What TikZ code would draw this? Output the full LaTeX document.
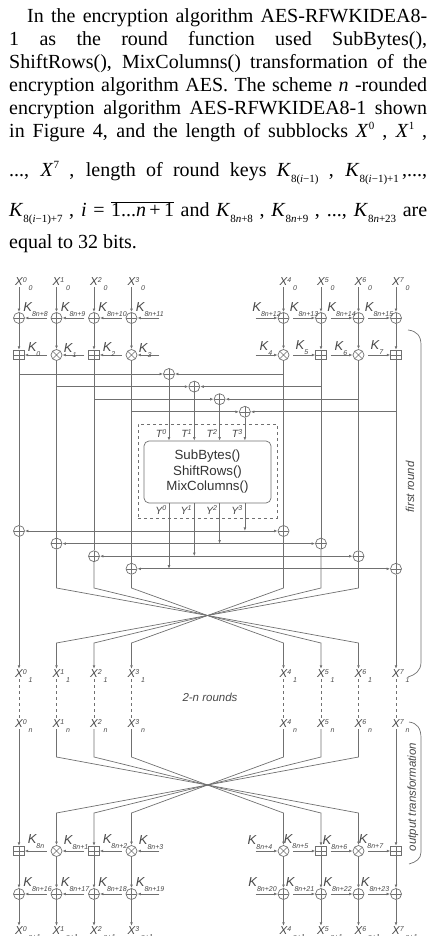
\documentclass[tikz,border=0pt]{standalone}
\usepackage{fontspec}
\setmainfont{Liberation Serif}
\setsansfont{Liberation Sans}
\usetikzlibrary{arrows.meta,positioning}
\definecolor{wiregray}{RGB}{112,112,112}
\definecolor{labelgray}{RGB}{72,72,72}

% indices in the paragraph
\newcommand{\psup}[1]{\raisebox{8pt}{\fontsize{11}{11}\selectfont #1}}
\newcommand{\psub}[1]{\raisebox{-6pt}{\fontsize{11}{11}\selectfont #1}}
% indices in the scheme
\newcommand{\dsup}[1]{\raisebox{3.5pt}{\fontsize{7}{7}\selectfont #1}}
\newcommand{\dsub}[1]{\raisebox{-4.5pt}{\fontsize{7}{7}\selectfont #1}}
\newcommand{\xlab}[2]{X\rlap{\smash{\dsup{#1}\,\dsub{#2}}}}
\newcommand{\klab}[1]{K\smash{\dsub{#1}}}

\begin{document}
\begin{tikzpicture}[x=1pt, y=-1pt,
    wire/.style={draw=wiregray, line width=0.7pt},
    arrow/.style={wire, -{Latex[length=3.6pt, width=2.8pt]}},
    opnode/.style={draw=wiregray, line width=0.7pt, inner sep=0pt},
    xor/.style={opnode, circle, minimum size=11pt,
        path picture={\draw[wiregray, line width=0.6pt]
            (path picture bounding box.north) -- (path picture bounding box.south)
            (path picture bounding box.west) -- (path picture bounding box.east);}},
    mul/.style={opnode, circle, minimum size=11pt,
        path picture={\draw[wiregray, line width=0.6pt]
            (path picture bounding box.north west) -- (path picture bounding box.south east)
            (path picture bounding box.south west) -- (path picture bounding box.north east);}},
    add/.style={opnode, rectangle, minimum width=10.5pt, minimum height=9.5pt,
        path picture={\draw[wiregray, line width=0.6pt]
            (path picture bounding box.north) -- (path picture bounding box.south)
            (path picture bounding box.west) -- (path picture bounding box.east);}},
    xtxt/.style={font=\sffamily\itshape\fontsize{11.5}{13}\selectfont, text=labelgray, inner sep=1pt},
    ktxt/.style={font=\sffamily\itshape\fontsize{13}{14}\selectfont, text=labelgray, inner sep=0pt},
    ttxt/.style={font=\sffamily\itshape\fontsize{10.5}{12}\selectfont, text=labelgray, inner sep=2.5pt},
    textline/.style={anchor=base west, inner sep=0pt, font=\fontsize{20}{23}\selectfont}
]
\useasboundingbox (0,0) rectangle (428,936);

% paragraph above the scheme
\node[textline] (par1) at (27,22.7) {\makebox[400pt][s]{In the encryption algorithm AES-RFWKIDEA8-}};
\node[textline] (par2) at (9,45.7) {\makebox[418pt][s]{1 as the round function used SubBytes(),}};
\node[textline] (par3) at (9,68.3) {\makebox[418pt][s]{ShiftRows(), MixColumns() transformation of the}};
\node[textline] (par4) at (9,91.7) {\makebox[418pt][s]{encryption algorithm AES. The scheme \textit{n} -rounded}};
\node[textline] (par5) at (9,114.3) {\makebox[418pt][s]{encryption algorithm AES-RFWKIDEA8-1 shown}};
\node[textline] (par6) at (9,137.3) {\makebox[418pt][s]{in Figure 4, and the length of subblocks \textit{X}\psup{0} , \textit{X}\psup{1} ,}};
\node[textline] (par7) at (9,176.7) {\makebox[418pt][s]{..., \textit{X}\psup{7} , length of round keys \textit{K}\psub{8(\textit{i}−1)} , \textit{K}\psub{8(\textit{i}−1)+1}\,,...,}};
\node[textline] (par8) at (9,216.7) {\makebox[418pt][s]{\textit{K}\psub{8(\textit{i}−1)+7} , \textit{i} = $\overline{\hbox{1...\textit{n}\,+\,1}}$ and \textit{K}\psub{8\textit{n}+8} , \textit{K}\psub{8\textit{n}+9} , ..., \textit{K}\psub{8\textit{n}+23} are}};
\node[textline] (par9) at (9,248.3) {equal to 32 bits.};

% columns
\foreach \i/\x/\op in {0/19/add, 1/56.5/mul, 2/94/add, 3/131.5/mul,
                       4/283.5/mul, 5/321/add, 6/358.5/mul, 7/396/add} {
  \node[xtxt] (x0\i) at (\x,282) {\xlab{\i}{0}};
  \node[xor] (ka\i) at (\x,318) {};
  \node[\op] (kb\i) at (\x,355) {};
  \node[xtxt] (x1\i) at (\x,674) {\xlab{\i}{1}};
  \node[xtxt] (xn\i) at (\x,724) {\xlab{\i}{n}};
  \node[\op] (kc\i) at (\x,851) {};
  \node[xor] (kd\i) at (\x,894) {};
  \node[xtxt] (xe\i) at (\x,931) {\xlab{\i}{n+1}};
  \coordinate (ta\i) at (\x,588);
  \coordinate (tb\i) at (\x,643);
  \coordinate (ba\i) at (\x,757);
  \coordinate (bb\i) at (\x,813);
  \draw[arrow] (x0\i) -- (ka\i);
  \draw[arrow] (ka\i) -- (kb\i);
  \draw[wire, dashed] (x1\i) -- (xn\i);
  \draw[arrow] (kc\i) -- (kd\i);
  \draw[arrow] (kd\i) -- (xe\i);
}

% round keys, left half
\foreach \i in {0,...,3} {
  \pgfmathtruncatemacro\kn{\i+8}
  \pgfmathtruncatemacro\km{\i+16}
  \coordinate[right=22pt of ka\i] (kai\i);
  \coordinate[right=22pt of kb\i] (kbi\i);
  \coordinate[right=22pt of kc\i] (kci\i);
  \coordinate[right=22pt of kd\i] (kdi\i);
  \draw[arrow] (kai\i) -- (ka\i);
  \draw[arrow] (kbi\i) -- (kb\i);
  \draw[arrow] (kci\i) -- (kc\i);
  \draw[arrow] (kdi\i) -- (kd\i);
  \node[ktxt, above right=2pt and 0pt of ka\i] (kal\i) {\klab{8n+\kn}};
  \node[ktxt, above right=-2pt and 3pt of kb\i] (kbl\i) {\klab{\i}};
  \node[ktxt, above right=2pt and 3pt of kc\i] (kcl\i) {\klab{8n\ifnum\i>0 +\i\fi}};
  \node[ktxt, above right=3pt and 0pt of kd\i] (kdl\i) {\klab{8n+\km}};
}

% round keys, right half
\foreach \i in {4,...,7} {
  \pgfmathtruncatemacro\kn{\i+8}
  \pgfmathtruncatemacro\km{\i+16}
  \coordinate[left=22pt of ka\i] (kai\i);
  \coordinate[left=22pt of kb\i] (kbi\i);
  \coordinate[left=22pt of kc\i] (kci\i);
  \coordinate[left=22pt of kd\i] (kdi\i);
  \draw[arrow] (kai\i) -- (ka\i);
  \draw[arrow] (kbi\i) -- (kb\i);
  \draw[arrow] (kci\i) -- (kc\i);
  \draw[arrow] (kdi\i) -- (kd\i);
  \node[ktxt, above left=2pt and -1.5pt of ka\i] (kal\i) {\klab{8n+\kn}};
  \node[ktxt, above left=0pt and 7pt of kb\i] (kbl\i) {\klab{\i}};
  \node[ktxt, above left=2pt and 7pt of kc\i] (kcl\i) {\klab{8n+\i}};
  \node[ktxt, above left=3pt and 2.5pt of kd\i] (kdl\i) {\klab{8n+\km}};
}

% round function
\node[draw=wiregray, dashed, line width=0.7pt, minimum width=139pt, minimum height=94pt] (frame) at (207.5,471) {};
\node[draw=wiregray, line width=0.7pt, rounded corners=5pt, minimum width=127pt, minimum height=62pt,
      align=center, font=\sffamily\fontsize{13.3}{15.5}\selectfont, text=black!80] (f) at (207.5,472)
      {SubBytes()\\ShiftRows()\\MixColumns()};

\foreach \k in {0,...,3} {
  \pgfmathtruncatemacro\r{\k+4}
  \node[xor] (mx\k) at (169+25.3*\k, 374+12.6*\k) {};
  \node[xor] (mc\k) at (19+37.5*\k, 531+12.6*\k) {};
  \node[xor] (mc\r) at (283.5+37.5*\k, 531+12.6*\k) {};
}

\foreach \k in {0,...,3} {
  \pgfmathtruncatemacro\r{\k+4}
  \pgfmathtruncatemacro\j{3-\k}
  \pgfmathtruncatemacro\jr{7-\k}
  \coordinate (hl\k) at (kb\k |- mx\k);
  \coordinate (hr\k) at (kb\r |- mx\k);
  \coordinate (yj\k) at (mx\k |- mc\j);
  \draw[wire] (kb\k) -- (mc\k);
  \draw[wire] (kb\r) -- (mc\r);
  \draw[arrow] (hl\k) -- (mx\k);
  \draw[arrow] (hr\k) -- (mx\k);
  \draw[arrow] (mx\k) -- (mx\k |- f.north);
  \node[ttxt, anchor=south east] (t\k) at (mx\k |- f.north) {T\dsup{\k}};
  \node[ttxt, anchor=north east] (y\k) at (mx\k |- f.south) {Y\dsup{\k}};
  \draw[arrow] (mx\k |- f.south) -- (yj\k);
  \draw[arrow] (yj\k) -- (mc\j);
  \draw[arrow] (yj\k) -- (mc\jr);
}

% permutation of subblocks
\draw[arrow] (mc0) -- (x10);
\draw[arrow] (mc7) -- (x17);
\draw[arrow] (xn0) -- (kc0);
\draw[arrow] (xn7) -- (kc7);
\foreach \j in {1,...,6} {
  \pgfmathtruncatemacro\o{7-\j}
  \draw[arrow] (mc\j) -- (ta\j) -- (tb\o) -- (x1\o);
  \draw[arrow] (xn\j) -- (ba\j) -- (bb\o) -- (kc\o);
}

\node[xtxt] (rounds) at (210,697) {2-n rounds};

% braces on the right
\draw[wire] (408,330) .. controls (417,331) and (421,336) .. (421,345) -- (421,662)
    .. controls (421,671) and (415,675) .. (408,677);
\node[xtxt, rotate=90] (first) at (410,487) {first round};
\draw[wire] (409,722) .. controls (417,723) and (421,728) .. (421,738) -- (421,852)
    .. controls (421,859) and (416,862) .. (409,864);
\node[xtxt, rotate=90] (output) at (413,797) {output transformation};

\end{tikzpicture}
\end{document}
